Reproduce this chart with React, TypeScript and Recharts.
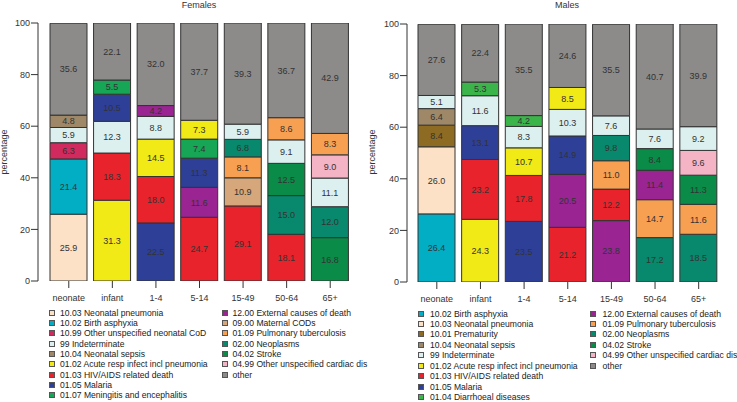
import { BarChart, Bar, XAxis, YAxis, Cell, LabelList } from 'recharts';

const FONT = '"Liberation Sans", Arial, Helvetica, sans-serif';

const ageGroups = ['neonate', 'infant', '1-4', '5-14', '15-49', '50-64', '65+'];

// cause codes per bar, bottom to top
const femaleCauses = [
  ['10.03', '10.02', '10.99', '99', '10.04', 'other'],
  ['01.02', '01.03', '99', '01.05', '01.07', 'other'],
  ['01.05', '01.03', '01.02', '99', '12.00', 'other'],
  ['01.03', '12.00', '01.05', '01.07', '01.02', 'other'],
  ['01.03', '09.00', '01.09', '02.00', '99', 'other'],
  ['01.03', '02.00', '04.02', '99', '01.09', 'other'],
  ['04.02', '02.00', '99', '04.99', '01.09', 'other'],
];
const femaleValues = [
  [25.9, 21.4, 6.3, 5.9, 4.8, 35.6],
  [31.3, 18.3, 12.3, 10.5, 5.5, 22.1],
  [22.5, 18.0, 14.5, 8.8, 4.2, 32.0],
  [24.7, 11.6, 11.3, 7.4, 7.3, 37.7],
  [29.1, 10.9, 8.1, 6.8, 5.9, 39.3],
  [18.1, 15.0, 12.5, 9.1, 8.6, 36.7],
  [16.8, 12.0, 11.1, 9.0, 8.3, 42.9],
];

const maleCauses = [
  ['10.02', '10.03', '10.01', '10.04', '99', 'other'],
  ['01.02', '01.03', '01.05', '99', '01.04', 'other'],
  ['01.05', '01.03', '01.02', '99', '01.04', 'other'],
  ['01.03', '12.00', '01.05', '99', '01.02', 'other'],
  ['12.00', '01.03', '01.09', '02.00', '99', 'other'],
  ['02.00', '01.09', '12.00', '04.02', '99', 'other'],
  ['02.00', '01.09', '04.02', '04.99', '99', 'other'],
];
const maleValues = [
  [26.4, 26.0, 8.4, 6.4, 5.1, 27.6],
  [24.3, 23.2, 13.1, 11.6, 5.3, 22.4],
  [23.5, 17.8, 10.7, 8.3, 4.2, 35.5],
  [21.2, 20.5, 14.9, 10.3, 8.5, 24.6],
  [23.8, 12.2, 11.0, 9.8, 7.6, 35.5],
  [17.2, 14.7, 11.4, 8.4, 7.6, 40.7],
  [18.5, 11.6, 11.3, 9.6, 9.2, 39.9],
];

const causeNames: Record<string, string> = {
  '10.01': 'Prematurity',
  '10.02': 'Birth asphyxia',
  '10.03': 'Neonatal pneumonia',
  '10.04': 'Neonatal sepsis',
  '10.99': 'Other unspecified neonatal CoD',
  '99': 'Indeterminate',
  '01.02': 'Acute resp infect incl pneumonia',
  '01.03': 'HIV/AIDS related death',
  '01.04': 'Diarrhoeal diseases',
  '01.05': 'Malaria',
  '01.07': 'Meningitis and encephalitis',
  '01.09': 'Pulmonary tuberculosis',
  '02.00': 'Neoplasms',
  '04.02': 'Stroke',
  '04.99': 'Other unspecified cardiac dis',
  '09.00': 'Maternal CODs',
  '12.00': 'External causes of death',
  other: 'other',
};

const causeColors: Record<string, string> = {
  '10.01': '#8d6b23',
  '10.02': '#02aec4',
  '10.03': '#fde1c6',
  '10.04': '#9e8868',
  '10.99': '#d12a5e',
  '99': '#dcf0f0',
  '01.02': '#f2ea16',
  '01.03': '#e8232c',
  '01.04': '#3bb54a',
  '01.05': '#2e3f98',
  '01.07': '#17a556',
  '01.09': '#f8a052',
  '02.00': '#08886c',
  '04.02': '#0a8b47',
  '04.99': '#f5b3c6',
  '09.00': '#d5a77a',
  '12.00': '#9a2592',
  other: '#8c8b8a',
};

const femaleLegend = [
  ['10.03', '10.02', '10.99', '99', '10.04', '01.02', '01.03', '01.05', '01.07'],
  ['12.00', '09.00', '01.09', '02.00', '04.02', '04.99', 'other'],
];
const maleLegend = [
  ['10.02', '10.03', '10.01', '10.04', '99', '01.02', '01.03', '01.05', '01.04'],
  ['12.00', '01.09', '02.00', '04.02', '04.99', 'other'],
];

const ranks = [0, 1, 2, 3, 4, 5];

function buildRows(values: number[][]) {
  return ageGroups.map((age, i) => {
    const row: Record<string, string | number> = { age };
    values[i].forEach((v, k) => {
      row[`r${k}`] = v;
    });
    return row;
  });
}

interface PanelProps {
  title: string;
  causes: string[][];
  values: number[][];
  legend: string[][];
  left: number;
  width: number;
  height: number;
  marginTop: number;
  marginRight: number;
  yWidth: number;
  padLeft: number;
  titleX: number;
  legendTop: number;
  legendStep: number;
  colX: [number, number];
  textGap: number;
}

function Panel(p: PanelProps) {
  const rows = buildRows(p.values);
  return (
    <div style={{ position: 'absolute', left: p.left, top: 0, width: p.width, height: 402 }}>
      <BarChart
        width={p.width}
        height={p.height}
        data={rows}
        margin={{ top: p.marginTop, right: p.marginRight, bottom: 0, left: 0 }}
        barSize={37}
      >
        <XAxis
          dataKey="age"
          axisLine={false}
          tickSize={7}
          tickMargin={7}
          height={29}
          interval={0}
          padding={{ left: p.padLeft, right: 0 }}
          tickLine={{ stroke: '#333' }}
          tick={{ fontSize: 9, fill: '#333', fontFamily: FONT }}
        />
        <YAxis
          domain={[0, 100]}
          allowDataOverflow
          ticks={[0, 20, 40, 60, 80, 100]}
          width={p.yWidth}
          tickSize={7}
          tickMargin={1}
          axisLine={{ stroke: '#333' }}
          tickLine={{ stroke: '#333' }}
          tick={{ fontSize: 9, fill: '#333', fontFamily: FONT }}
        />
        {ranks.map((k) => (
          <Bar
            key={k}
            dataKey={`r${k}`}
            stackId="a"
            stroke="#333"
            strokeWidth={1}
            isAnimationActive={false}
          >
            {rows.map((_, j) => (
              <Cell key={j} fill={causeColors[p.causes[j][k]]} />
            ))}
            <LabelList
              dataKey={`r${k}`}
              position="center"
              formatter={(v: any) => Number(v).toFixed(1)}
              fill="#333"
              fontSize={9}
              fontFamily={FONT}
            />
          </Bar>
        ))}
      </BarChart>
      <div
        style={{
          position: 'absolute',
          left: p.titleX - 50,
          top: 0,
          width: 100,
          textAlign: 'center',
          fontFamily: FONT,
          fontSize: 9,
          lineHeight: '10px',
          color: '#333',
        }}
      >
        {p.title}
      </div>
      <div
        style={{
          position: 'absolute',
          left: 4 - 40,
          top: 152 - 6,
          width: 80,
          textAlign: 'center',
          fontFamily: FONT,
          fontSize: 9,
          lineHeight: '12px',
          color: '#333',
          transform: 'rotate(-90deg)',
        }}
      >
        percentage
      </div>
      {p.legend.map((col, c) =>
        col.map((code, r) => (
          <div
            key={`${c}-${r}`}
            style={{
              position: 'absolute',
              left: p.colX[c],
              top: p.legendTop + r * p.legendStep - 5,
              height: 10,
              display: 'flex',
              alignItems: 'center',
              whiteSpace: 'nowrap',
              fontFamily: FONT,
              fontSize: 8.6,
              color: '#222',
            }}
          >
            <span
              style={{
                display: 'inline-block',
                width: 6,
                height: 6,
                boxSizing: 'border-box',
                border: '1px solid #555',
                background: causeColors[code],
                marginRight: p.textGap,
              }}
            />
            <span>{code === 'other' ? 'other' : `${code} ${causeNames[code]}`}</span>
          </div>
        ))
      )}
    </div>
  );
}

export default function App() {
  return (
    <div style={{ position: 'absolute', left: 0, top: 0, width: 737, height: 402, background: '#fff' }}>
      <Panel
        title="Females"
        causes={femaleCauses}
        values={femaleValues}
        legend={femaleLegend}
        left={0}
        width={370}
        height={310}
        marginTop={23}
        marginRight={18}
        yWidth={38}
        padLeft={9}
        titleX={199}
        legendTop={312.7}
        legendStep={10.3}
        colX={[49, 221.5]}
        textGap={5}
      />
      <Panel
        title="Males"
        causes={maleCauses}
        values={maleValues}
        legend={maleLegend}
        left={368}
        width={369}
        height={311}
        marginTop={24}
        marginRight={16.5}
        yWidth={39}
        padLeft={8}
        titleX={199}
        legendTop={313.5}
        legendStep={10.45}
        colX={[49.5, 222]}
        textGap={6.5}
      />
    </div>
  );
}
